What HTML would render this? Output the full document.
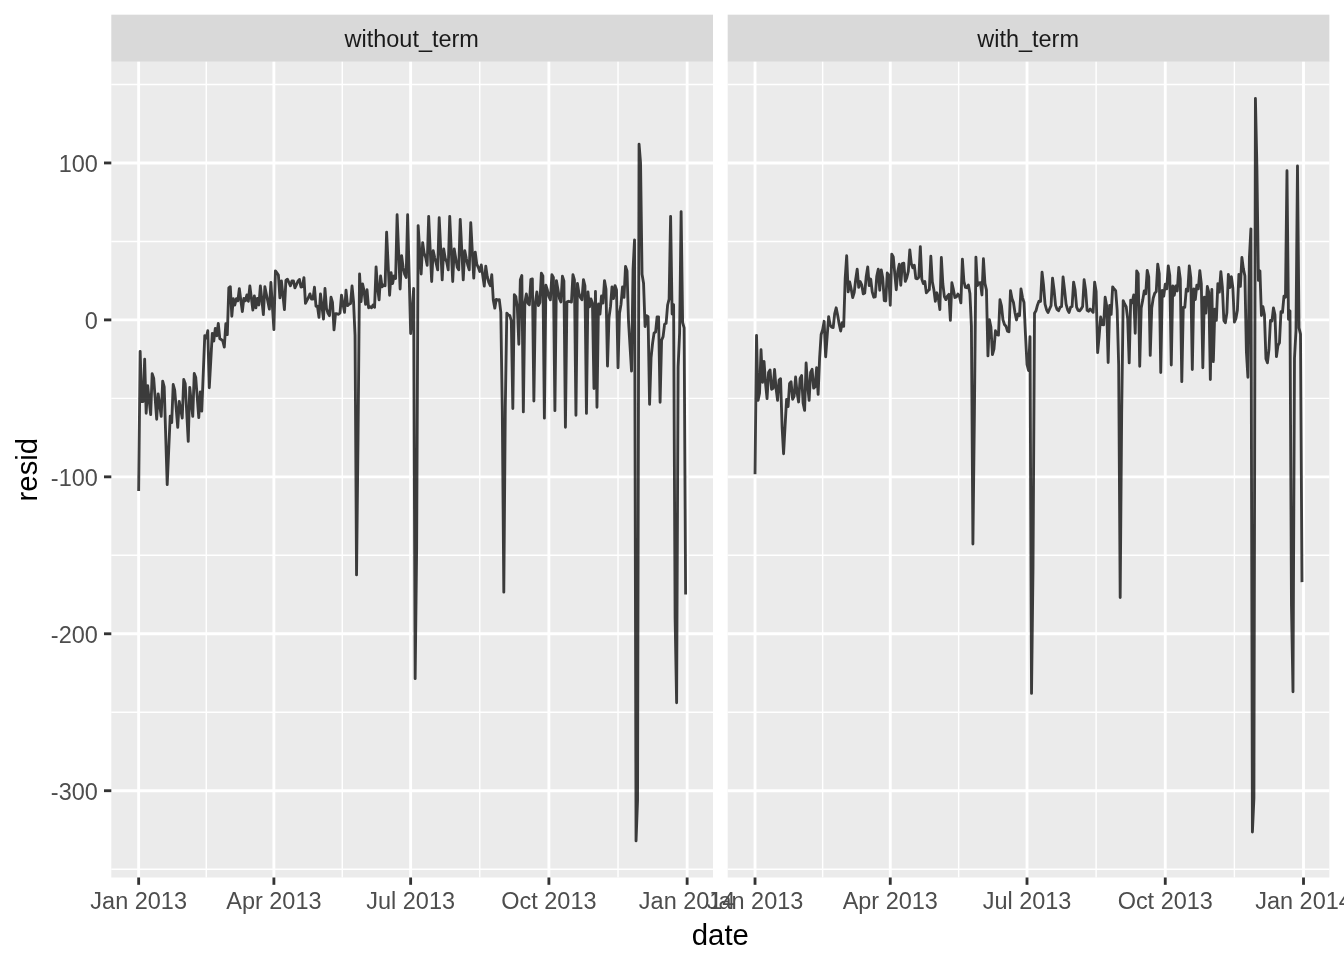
<!DOCTYPE html><html><head><meta charset="utf-8"><title>resid by date</title>
<style>html,body{margin:0;padding:0;background:#fff}svg{display:block;will-change:transform;filter:grayscale(1)}text{font-family:"Liberation Sans",sans-serif}</style></head><body>
<svg width="1344" height="960" viewBox="0 0 1344 960">
<rect width="1344" height="960" fill="#fff"/>
<g>
<rect x="111.30" y="14.67" width="601.70" height="47.13" fill="#D9D9D9"/>
<rect x="111.30" y="61.80" width="601.70" height="815.70" fill="#EBEBEB"/>
<line x1="111.30" x2="713.00" y1="84.49" y2="84.49" stroke="#fff" stroke-width="1.42"/>
<line x1="111.30" x2="713.00" y1="241.43" y2="241.43" stroke="#fff" stroke-width="1.42"/>
<line x1="111.30" x2="713.00" y1="398.37" y2="398.37" stroke="#fff" stroke-width="1.42"/>
<line x1="111.30" x2="713.00" y1="555.31" y2="555.31" stroke="#fff" stroke-width="1.42"/>
<line x1="111.30" x2="713.00" y1="712.25" y2="712.25" stroke="#fff" stroke-width="1.42"/>
<line x1="111.30" x2="713.00" y1="869.19" y2="869.19" stroke="#fff" stroke-width="1.42"/>
<line x1="206.27" x2="206.27" y1="61.80" y2="877.50" stroke="#fff" stroke-width="1.42"/>
<line x1="342.27" x2="342.27" y1="61.80" y2="877.50" stroke="#fff" stroke-width="1.42"/>
<line x1="479.76" x2="479.76" y1="61.80" y2="877.50" stroke="#fff" stroke-width="1.42"/>
<line x1="618.01" x2="618.01" y1="61.80" y2="877.50" stroke="#fff" stroke-width="1.42"/>
<line x1="111.30" x2="713.00" y1="162.96" y2="162.96" stroke="#fff" stroke-width="2.84"/>
<line x1="111.30" x2="713.00" y1="319.90" y2="319.90" stroke="#fff" stroke-width="2.84"/>
<line x1="111.30" x2="713.00" y1="476.84" y2="476.84" stroke="#fff" stroke-width="2.84"/>
<line x1="111.30" x2="713.00" y1="633.78" y2="633.78" stroke="#fff" stroke-width="2.84"/>
<line x1="111.30" x2="713.00" y1="790.72" y2="790.72" stroke="#fff" stroke-width="2.84"/>
<line x1="138.65" x2="138.65" y1="61.80" y2="877.50" stroke="#fff" stroke-width="2.84"/>
<line x1="273.89" x2="273.89" y1="61.80" y2="877.50" stroke="#fff" stroke-width="2.84"/>
<line x1="410.64" x2="410.64" y1="61.80" y2="877.50" stroke="#fff" stroke-width="2.84"/>
<line x1="548.89" x2="548.89" y1="61.80" y2="877.50" stroke="#fff" stroke-width="2.84"/>
<line x1="687.14" x2="687.14" y1="61.80" y2="877.50" stroke="#fff" stroke-width="2.84"/>
<polyline points="138.65,490.96 140.15,351.38 141.66,401.51 143.16,401.51 144.66,359.24 146.16,413.25 147.67,385.75 149.17,400.19 150.67,414.63 152.17,373.62 153.68,378.12 155.18,398.68 156.68,419.24 158.19,393.88 159.69,405.12 161.19,416.37 162.69,381.12 164.20,386.88 165.70,435.78 167.20,484.69 168.70,450.41 170.21,416.12 171.71,422.62 173.21,384.50 174.71,390.01 176.22,408.68 177.72,427.37 179.22,401.37 180.73,409.69 182.23,418.00 183.73,379.51 185.23,383.74 186.74,412.56 188.24,441.37 189.74,387.37 191.24,401.87 192.75,416.37 194.25,373.50 195.75,377.50 197.26,397.57 198.76,417.63 200.26,392.00 201.76,411.13 203.27,373.35 204.77,335.58 206.27,337.92 207.77,330.74 209.28,387.75 210.78,360.63 212.28,333.51 213.78,341.09 215.29,328.33 216.79,335.83 218.29,323.34 219.80,338.73 221.30,339.58 222.80,340.84 224.30,347.08 225.81,323.75 227.31,334.59 228.81,287.92 230.31,286.66 231.82,316.24 233.32,298.74 234.82,305.01 236.33,298.74 237.83,300.83 239.33,288.75 240.83,300.20 242.34,311.66 243.84,298.34 245.34,300.83 246.84,294.99 248.35,301.26 249.85,285.83 251.35,297.91 252.86,310.00 254.36,295.84 255.86,307.91 257.36,298.34 258.87,305.01 260.37,285.83 261.87,300.20 263.37,314.58 264.88,286.66 266.38,294.16 267.88,301.66 269.38,309.17 270.89,282.50 272.39,306.06 273.89,329.63 275.40,270.84 276.90,272.91 278.40,275.00 279.90,297.91 281.41,280.84 282.91,295.21 284.41,309.59 285.91,280.41 287.42,279.17 288.92,282.50 290.42,285.83 291.93,280.84 293.43,280.84 294.93,287.92 296.43,284.59 297.94,281.25 299.44,279.46 300.94,287.01 302.44,286.66 303.95,277.59 305.45,303.45 306.95,300.42 308.46,297.50 309.96,293.91 311.46,299.17 312.96,299.17 314.47,287.26 315.97,306.25 317.47,306.25 318.97,317.33 320.48,293.91 321.98,306.47 323.48,319.01 324.98,288.50 326.49,308.33 327.99,313.34 329.49,315.66 331.00,297.25 332.50,302.50 334.00,329.83 335.50,313.75 337.01,313.75 338.51,314.33 340.01,312.92 341.51,295.17 343.02,304.16 344.52,312.34 346.02,290.16 347.53,305.67 349.03,304.16 350.53,303.75 352.03,286.00 353.54,301.66 355.04,335.59 356.54,574.93 358.04,437.60 359.55,273.92 361.05,301.51 362.55,283.91 364.06,290.83 365.56,304.41 367.06,289.75 368.56,307.75 370.07,306.67 371.57,307.75 373.07,305.01 374.57,307.33 376.08,266.84 377.58,288.34 379.08,299.83 380.58,276.00 382.09,286.91 383.59,285.00 385.09,285.83 386.60,232.17 388.10,263.72 389.60,295.24 391.10,272.66 392.61,283.58 394.11,275.83 395.61,278.58 397.11,214.75 398.62,251.88 400.12,289.00 401.62,255.59 403.13,267.50 404.63,274.17 406.13,277.54 407.63,214.75 409.14,274.39 410.64,333.55 412.14,312.05 413.64,288.51 415.15,678.66 416.65,547.46 418.15,225.58 419.65,249.79 421.16,274.00 422.66,242.67 424.16,253.33 425.67,257.50 427.17,265.25 428.67,216.41 430.17,248.96 431.68,281.50 433.18,250.58 434.68,257.50 436.18,263.34 437.69,269.84 439.19,217.67 440.69,248.74 442.20,279.83 443.70,248.92 445.20,258.33 446.70,262.08 448.21,269.84 449.71,216.41 451.21,248.96 452.71,281.50 454.22,248.92 455.72,258.33 457.22,267.33 458.73,269.84 460.23,219.33 461.73,249.59 463.23,279.83 464.74,250.58 466.24,258.33 467.74,264.97 469.24,269.84 470.75,222.66 472.25,250.42 473.75,278.17 475.25,252.09 476.76,264.17 478.26,267.29 479.76,271.50 481.27,264.96 482.77,275.52 484.27,286.08 485.77,266.13 487.28,276.66 488.78,282.50 490.28,285.67 491.78,274.75 493.29,300.00 494.79,308.16 496.29,299.34 497.80,300.00 499.30,299.58 500.80,312.05 502.30,410.93 503.81,592.19 505.31,406.22 506.81,313.09 508.31,315.00 509.82,315.58 511.32,320.83 512.82,408.59 514.32,294.74 515.83,296.67 517.33,307.34 518.83,344.26 520.34,279.75 521.84,275.58 523.34,411.91 524.84,302.64 526.35,293.91 527.85,303.33 529.35,304.83 530.85,279.33 532.36,278.92 533.86,401.09 535.36,302.64 536.87,291.84 538.37,305.67 539.87,302.64 541.37,273.08 542.88,275.83 544.38,418.16 545.88,285.17 547.38,290.00 548.89,296.67 550.39,299.83 551.89,274.75 553.40,277.49 554.90,410.67 556.40,280.59 557.90,289.17 559.41,298.34 560.91,301.91 562.41,276.25 563.91,280.84 565.42,427.34 566.92,302.09 568.42,301.26 569.92,301.66 571.43,302.09 572.93,274.75 574.43,280.01 575.94,415.26 577.44,283.51 578.94,293.33 580.44,297.50 581.95,299.83 583.45,279.66 584.95,285.83 586.45,413.44 587.96,291.84 589.46,306.92 590.96,298.92 592.47,303.33 593.97,388.48 595.47,291.42 596.97,407.32 598.48,303.92 599.98,314.17 601.48,296.00 602.98,303.17 604.49,280.59 605.99,289.17 607.49,366.09 609.00,317.55 610.50,306.67 612.00,286.83 613.50,298.59 615.01,285.58 616.51,290.00 618.01,367.75 619.51,313.34 621.02,304.16 622.52,286.83 624.02,297.33 625.52,266.41 627.03,270.84 628.53,321.67 630.03,346.33 631.54,371.08 633.04,269.68 634.54,239.86 636.04,840.94 637.55,800.14 639.05,144.13 640.55,162.96 642.05,274.17 643.56,283.33 645.06,326.51 646.56,315.58 648.07,316.67 649.57,404.33 651.07,357.57 652.57,343.33 654.08,332.91 655.58,332.08 657.08,316.84 658.58,316.84 660.09,402.29 661.59,340.30 663.09,336.66 664.59,324.17 666.10,323.34 667.60,305.01 669.10,299.17 670.61,216.32 672.11,314.00 673.61,304.76 675.11,618.09 676.62,702.83 678.12,366.98 679.62,332.46 681.12,211.61 682.63,322.57 684.13,327.90 685.63,594.54" fill="none" stroke="#000" stroke-opacity="0.75" stroke-width="2.84" stroke-linejoin="round" stroke-linecap="butt"/>
<line x1="138.65" x2="138.65" y1="877.50" y2="884.83" stroke="#333" stroke-width="2.84"/>
<text x="138.65" y="908.8" font-size="23.47" fill="#4D4D4D" text-anchor="middle">Jan 2013</text>
<line x1="273.89" x2="273.89" y1="877.50" y2="884.83" stroke="#333" stroke-width="2.84"/>
<text x="273.89" y="908.8" font-size="23.47" fill="#4D4D4D" text-anchor="middle">Apr 2013</text>
<line x1="410.64" x2="410.64" y1="877.50" y2="884.83" stroke="#333" stroke-width="2.84"/>
<text x="410.64" y="908.8" font-size="23.47" fill="#4D4D4D" text-anchor="middle">Jul 2013</text>
<line x1="548.89" x2="548.89" y1="877.50" y2="884.83" stroke="#333" stroke-width="2.84"/>
<text x="548.89" y="908.8" font-size="23.47" fill="#4D4D4D" text-anchor="middle">Oct 2013</text>
<line x1="687.14" x2="687.14" y1="877.50" y2="884.83" stroke="#333" stroke-width="2.84"/>
<text x="687.14" y="908.8" font-size="23.47" fill="#4D4D4D" text-anchor="middle">Jan 2014</text>
<text x="411.75" y="46.7" font-size="23.47" fill="#1A1A1A" text-anchor="middle">without_term</text>
</g>
<g>
<rect x="727.67" y="14.67" width="601.70" height="47.13" fill="#D9D9D9"/>
<rect x="727.67" y="61.80" width="601.70" height="815.70" fill="#EBEBEB"/>
<line x1="727.67" x2="1329.37" y1="84.49" y2="84.49" stroke="#fff" stroke-width="1.42"/>
<line x1="727.67" x2="1329.37" y1="241.43" y2="241.43" stroke="#fff" stroke-width="1.42"/>
<line x1="727.67" x2="1329.37" y1="398.37" y2="398.37" stroke="#fff" stroke-width="1.42"/>
<line x1="727.67" x2="1329.37" y1="555.31" y2="555.31" stroke="#fff" stroke-width="1.42"/>
<line x1="727.67" x2="1329.37" y1="712.25" y2="712.25" stroke="#fff" stroke-width="1.42"/>
<line x1="727.67" x2="1329.37" y1="869.19" y2="869.19" stroke="#fff" stroke-width="1.42"/>
<line x1="822.64" x2="822.64" y1="61.80" y2="877.50" stroke="#fff" stroke-width="1.42"/>
<line x1="958.64" x2="958.64" y1="61.80" y2="877.50" stroke="#fff" stroke-width="1.42"/>
<line x1="1096.13" x2="1096.13" y1="61.80" y2="877.50" stroke="#fff" stroke-width="1.42"/>
<line x1="1234.38" x2="1234.38" y1="61.80" y2="877.50" stroke="#fff" stroke-width="1.42"/>
<line x1="727.67" x2="1329.37" y1="162.96" y2="162.96" stroke="#fff" stroke-width="2.84"/>
<line x1="727.67" x2="1329.37" y1="319.90" y2="319.90" stroke="#fff" stroke-width="2.84"/>
<line x1="727.67" x2="1329.37" y1="476.84" y2="476.84" stroke="#fff" stroke-width="2.84"/>
<line x1="727.67" x2="1329.37" y1="633.78" y2="633.78" stroke="#fff" stroke-width="2.84"/>
<line x1="727.67" x2="1329.37" y1="790.72" y2="790.72" stroke="#fff" stroke-width="2.84"/>
<line x1="755.02" x2="755.02" y1="61.80" y2="877.50" stroke="#fff" stroke-width="2.84"/>
<line x1="890.26" x2="890.26" y1="61.80" y2="877.50" stroke="#fff" stroke-width="2.84"/>
<line x1="1027.01" x2="1027.01" y1="61.80" y2="877.50" stroke="#fff" stroke-width="2.84"/>
<line x1="1165.26" x2="1165.26" y1="61.80" y2="877.50" stroke="#fff" stroke-width="2.84"/>
<line x1="1303.51" x2="1303.51" y1="61.80" y2="877.50" stroke="#fff" stroke-width="2.84"/>
<polyline points="755.02,474.17 756.52,335.34 758.03,400.39 759.53,393.32 761.03,349.78 762.53,382.28 764.04,361.41 765.54,383.40 767.04,398.59 768.54,372.51 770.05,369.93 771.55,389.22 773.05,388.28 774.56,369.54 776.06,388.33 777.56,400.33 779.06,380.01 780.57,378.69 782.07,426.32 783.57,453.72 785.07,426.07 786.58,399.33 788.08,406.58 789.58,383.38 791.08,381.81 792.59,399.22 794.09,396.41 795.59,377.03 797.10,392.89 798.60,401.96 800.10,378.39 801.60,375.55 803.11,403.09 804.61,410.41 806.11,363.03 807.61,385.08 809.12,400.33 810.62,372.38 812.12,369.30 813.63,388.11 815.13,386.66 816.63,367.66 818.13,394.34 819.64,357.31 821.14,334.46 822.64,329.72 824.14,321.28 825.65,356.78 827.15,336.28 828.65,316.71 830.15,325.05 831.66,327.21 833.16,327.64 834.66,313.87 836.17,307.77 837.67,315.24 839.17,324.04 840.67,331.04 842.18,322.63 843.68,326.40 845.18,278.45 846.68,255.70 848.19,291.90 849.69,281.95 851.19,288.97 852.70,297.63 854.20,292.64 855.70,279.28 857.20,269.24 858.71,287.32 860.21,281.54 861.71,284.79 863.21,293.88 864.72,293.06 866.22,276.36 867.72,266.95 869.23,285.66 870.73,279.05 872.23,291.87 873.73,297.22 875.24,296.81 876.74,276.36 878.24,269.24 879.74,290.24 881.25,269.87 882.75,278.12 884.25,300.55 885.75,300.97 887.26,273.04 888.76,275.09 890.26,305.29 891.77,254.05 893.27,256.87 894.77,273.89 896.27,289.72 897.78,271.37 899.28,264.25 900.78,285.25 902.28,263.62 903.79,263.13 905.29,281.39 906.79,277.64 908.30,271.37 909.80,249.87 911.30,263.57 912.80,267.80 914.31,265.21 915.81,278.34 917.31,278.81 918.81,277.20 920.32,246.62 921.82,279.11 923.32,283.63 924.83,281.47 926.33,292.80 927.83,290.98 929.33,289.70 930.84,256.29 932.34,281.90 933.84,289.45 935.34,301.29 936.85,292.80 938.35,298.27 939.85,309.54 941.35,257.53 942.86,283.99 944.36,296.55 945.86,299.62 947.37,296.14 948.87,294.30 950.37,320.37 951.87,282.78 953.38,289.41 954.88,297.54 956.38,296.88 957.88,294.05 959.39,295.97 960.89,302.87 962.39,259.20 963.90,281.32 965.40,287.37 966.90,287.71 968.40,284.89 969.91,293.47 971.41,326.13 972.91,543.96 974.41,413.26 975.92,257.12 977.42,285.47 978.92,282.80 980.42,282.64 981.93,294.95 983.43,258.79 984.93,283.41 986.44,289.88 987.94,355.92 989.44,319.76 990.94,327.35 992.45,354.55 993.95,349.12 995.45,330.78 996.95,334.43 998.46,335.08 999.96,299.75 1001.46,305.85 1002.97,319.88 1004.47,324.50 1005.97,326.19 1007.47,331.09 1008.98,331.75 1010.48,290.58 1011.98,298.60 1013.48,302.46 1014.99,312.67 1016.49,319.95 1017.99,314.01 1019.50,315.66 1021.00,288.92 1022.50,297.57 1024.00,302.46 1025.51,335.17 1027.01,364.50 1028.51,370.48 1030.01,336.68 1031.52,693.42 1033.02,567.49 1034.52,313.29 1036.02,310.58 1037.53,304.94 1039.03,301.10 1040.53,301.49 1042.04,272.25 1043.54,285.28 1045.04,304.13 1046.54,309.75 1048.05,312.45 1049.55,309.01 1051.05,305.67 1052.55,278.09 1054.06,289.86 1055.56,305.38 1057.06,309.53 1058.57,310.78 1060.07,307.34 1061.57,306.50 1063.07,276.84 1064.58,289.86 1066.08,304.13 1067.58,309.75 1069.08,312.45 1070.59,307.34 1072.09,306.50 1073.59,282.08 1075.10,289.86 1076.60,307.05 1078.10,310.37 1079.60,310.78 1081.11,309.01 1082.61,306.50 1084.11,279.72 1085.61,289.86 1087.12,310.37 1088.62,311.21 1090.12,309.12 1091.62,310.51 1093.13,312.34 1094.63,282.05 1096.13,291.53 1097.64,352.67 1099.14,336.30 1100.64,317.03 1102.14,324.56 1103.65,324.83 1105.15,297.25 1106.65,305.70 1108.15,362.46 1109.66,305.34 1111.16,314.36 1112.66,286.91 1114.17,289.01 1115.67,290.63 1117.17,310.06 1118.67,365.26 1120.18,597.53 1121.68,412.42 1123.18,300.66 1124.68,304.02 1126.19,306.64 1127.69,318.83 1129.19,362.92 1130.69,300.08 1132.20,302.87 1133.70,294.92 1135.20,333.27 1136.71,270.81 1138.21,273.59 1139.71,366.24 1141.21,307.97 1142.72,300.11 1144.22,290.90 1145.72,293.85 1147.22,270.39 1148.73,276.93 1150.23,355.42 1151.73,307.97 1153.24,298.04 1154.74,293.24 1156.24,291.65 1157.74,264.14 1159.25,273.84 1160.75,372.49 1162.25,290.51 1163.75,296.20 1165.26,284.24 1166.76,288.84 1168.26,265.80 1169.77,275.50 1171.27,365.00 1172.77,285.92 1174.27,295.37 1175.78,285.91 1177.28,290.93 1178.78,267.31 1180.28,278.84 1181.79,381.67 1183.29,307.42 1184.79,307.45 1186.29,289.23 1187.80,291.10 1189.30,265.80 1190.80,278.01 1192.31,369.59 1193.81,288.84 1195.31,299.53 1196.81,285.08 1198.32,288.84 1199.82,270.72 1201.32,283.84 1202.82,367.77 1204.33,297.18 1205.83,313.12 1207.33,286.49 1208.84,292.34 1210.34,379.54 1211.84,289.42 1213.34,361.65 1214.85,309.26 1216.35,320.37 1217.85,283.57 1219.35,292.18 1220.86,271.64 1222.36,287.18 1223.86,320.42 1225.37,322.88 1226.87,312.87 1228.37,274.40 1229.87,287.60 1231.38,276.63 1232.88,288.01 1234.38,322.08 1235.88,318.68 1237.39,310.36 1238.89,274.40 1240.39,286.35 1241.89,257.47 1243.40,268.85 1244.90,276.00 1246.40,351.66 1247.91,377.28 1249.41,257.25 1250.91,228.87 1252.41,832.00 1253.92,798.14 1255.42,98.46 1256.92,168.30 1258.42,280.37 1259.93,270.90 1261.43,315.52 1262.93,306.64 1264.44,314.67 1265.94,358.66 1267.44,362.90 1268.94,349.53 1270.45,320.48 1271.95,321.09 1273.45,307.89 1274.95,314.85 1276.46,356.62 1277.96,345.64 1279.46,342.86 1280.96,311.74 1282.47,312.35 1283.97,296.06 1285.47,297.18 1286.98,170.65 1288.48,319.34 1289.98,310.95 1291.48,605.66 1292.99,691.85 1294.49,358.04 1295.99,330.46 1297.49,165.94 1299.00,327.90 1300.50,334.10 1302.00,582.12" fill="none" stroke="#000" stroke-opacity="0.75" stroke-width="2.84" stroke-linejoin="round" stroke-linecap="butt"/>
<line x1="755.02" x2="755.02" y1="877.50" y2="884.83" stroke="#333" stroke-width="2.84"/>
<text x="755.02" y="908.8" font-size="23.47" fill="#4D4D4D" text-anchor="middle">Jan 2013</text>
<line x1="890.26" x2="890.26" y1="877.50" y2="884.83" stroke="#333" stroke-width="2.84"/>
<text x="890.26" y="908.8" font-size="23.47" fill="#4D4D4D" text-anchor="middle">Apr 2013</text>
<line x1="1027.01" x2="1027.01" y1="877.50" y2="884.83" stroke="#333" stroke-width="2.84"/>
<text x="1027.01" y="908.8" font-size="23.47" fill="#4D4D4D" text-anchor="middle">Jul 2013</text>
<line x1="1165.26" x2="1165.26" y1="877.50" y2="884.83" stroke="#333" stroke-width="2.84"/>
<text x="1165.26" y="908.8" font-size="23.47" fill="#4D4D4D" text-anchor="middle">Oct 2013</text>
<line x1="1303.51" x2="1303.51" y1="877.50" y2="884.83" stroke="#333" stroke-width="2.84"/>
<text x="1303.51" y="908.8" font-size="23.47" fill="#4D4D4D" text-anchor="middle">Jan 2014</text>
<text x="1028.12" y="46.7" font-size="23.47" fill="#1A1A1A" text-anchor="middle">with_term</text>
</g>
<line x1="103.97" x2="111.30" y1="162.96" y2="162.96" stroke="#333" stroke-width="2.84"/>
<text x="97.80" y="171.81" font-size="23.47" fill="#4D4D4D" text-anchor="end">100</text>
<line x1="103.97" x2="111.30" y1="319.90" y2="319.90" stroke="#333" stroke-width="2.84"/>
<text x="97.80" y="328.75" font-size="23.47" fill="#4D4D4D" text-anchor="end">0</text>
<line x1="103.97" x2="111.30" y1="476.84" y2="476.84" stroke="#333" stroke-width="2.84"/>
<text x="97.80" y="485.69" font-size="23.47" fill="#4D4D4D" text-anchor="end">-100</text>
<line x1="103.97" x2="111.30" y1="633.78" y2="633.78" stroke="#333" stroke-width="2.84"/>
<text x="97.80" y="642.63" font-size="23.47" fill="#4D4D4D" text-anchor="end">-200</text>
<line x1="103.97" x2="111.30" y1="790.72" y2="790.72" stroke="#333" stroke-width="2.84"/>
<text x="97.80" y="799.57" font-size="23.47" fill="#4D4D4D" text-anchor="end">-300</text>
<text x="720.34" y="945.0" font-size="29.33" fill="#000" text-anchor="middle">date</text>
<text transform="translate(36.5,469.65) rotate(-90)" font-size="29.33" fill="#000" text-anchor="middle">resid</text>
</svg></body></html>
